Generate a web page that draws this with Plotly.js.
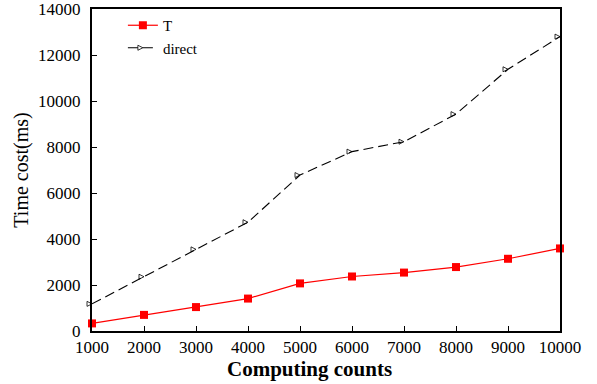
<!DOCTYPE html>
<html>
<head>
<meta charset="utf-8">
<script src="https://cdn.plot.ly/plotly-3.0.1.min.js"></script>
<style>html,body{margin:0;padding:0;background:#fff;}#chart{width:597px;height:384px;}</style>
</head>
<body>
<div id="chart"></div>
<script>
const counts = [1000, 2000, 3000, 4000, 5000, 6000, 7000, 8000, 9000, 10000];
const tValues = [330, 700, 1040, 1410, 2070, 2370, 2540, 2780, 3140, 3590];
const directValues = [1180, 2360, 3550, 4730, 6780, 7800, 8230, 9430, 11380, 12800];
const xTicks = [1000, 2000, 3000, 4000, 5000, 6000, 7000, 8000, 9000, 10000];
const yTicks = [0, 2000, 4000, 6000, 8000, 10000, 12000, 14000];
const xTitle = 'Computing counts';
const yTitle = 'Time cost(ms)';

const serif = "'Liberation Serif', 'DejaVu Serif', serif";

const traces = [
  {
    x: counts, y: tValues, name: 'T', type: 'scatter', mode: 'lines+markers',
    line: {color: '#ff0000', width: 1.2},
    marker: {symbol: 'square', size: 8, color: '#ff0000'},
    cliponaxis: false
  },
  {
    x: counts, y: directValues, name: 'direct', type: 'scatter', mode: 'lines+markers',
    line: {color: '#000000', width: 1.1, dash: '10px,5px'},
    marker: {symbol: 'arrow-right-open', size: 5, color: '#000000', line: {width: 0.8, color: '#000000'}},
    cliponaxis: false
  }
];

const layout = {
  width: 597, height: 384,
  margin: {l: 92, r: 37, t: 9, b: 53},
  paper_bgcolor: '#ffffff', plot_bgcolor: '#ffffff',
  showlegend: true,
  legend: {
    x: 0.066, y: 1.0, xanchor: 'left', yanchor: 'top',
    bgcolor: 'rgba(0,0,0,0)', borderwidth: 0,
    font: {family: serif, size: 15, color: '#000'},
    itemwidth: 30
  },
  xaxis: {
    range: [1000, 10000], tickvals: xTicks, ticktext: xTicks.map(String),
    showgrid: false, zeroline: false,
    showline: true, linecolor: '#000', linewidth: 2, mirror: true,
    ticks: 'inside', ticklen: 5, tickwidth: 1, tickcolor: '#000',
    ticklabeloverflow: 'allow',
    tickfont: {family: serif, size: 17, color: '#000'}
  },
  yaxis: {
    range: [0, 14000], tickvals: yTicks, ticktext: yTicks.map(String),
    showgrid: false, zeroline: false,
    showline: true, linecolor: '#000', linewidth: 2, mirror: true,
    ticks: 'inside', ticklen: 5, tickwidth: 1, tickcolor: '#000',
    ticklabelstandoff: 6, ticklabeloverflow: 'allow',
    tickfont: {family: serif, size: 17, color: '#000'},
    title: {text: yTitle, font: {family: serif, size: 20, color: '#000'}, standoff: 4}
  },
  annotations: [
    {
      text: '<b>' + xTitle + '</b>', xref: 'paper', yref: 'paper',
      x: 0.4637, y: -0.117, xanchor: 'center', yanchor: 'middle',
      showarrow: false, font: {family: serif, size: 21, color: '#000'}
    }
  ]
};

Plotly.newPlot('chart', traces, layout, {displayModeBar: false, staticPlot: true});
</script>
</body>
</html>
